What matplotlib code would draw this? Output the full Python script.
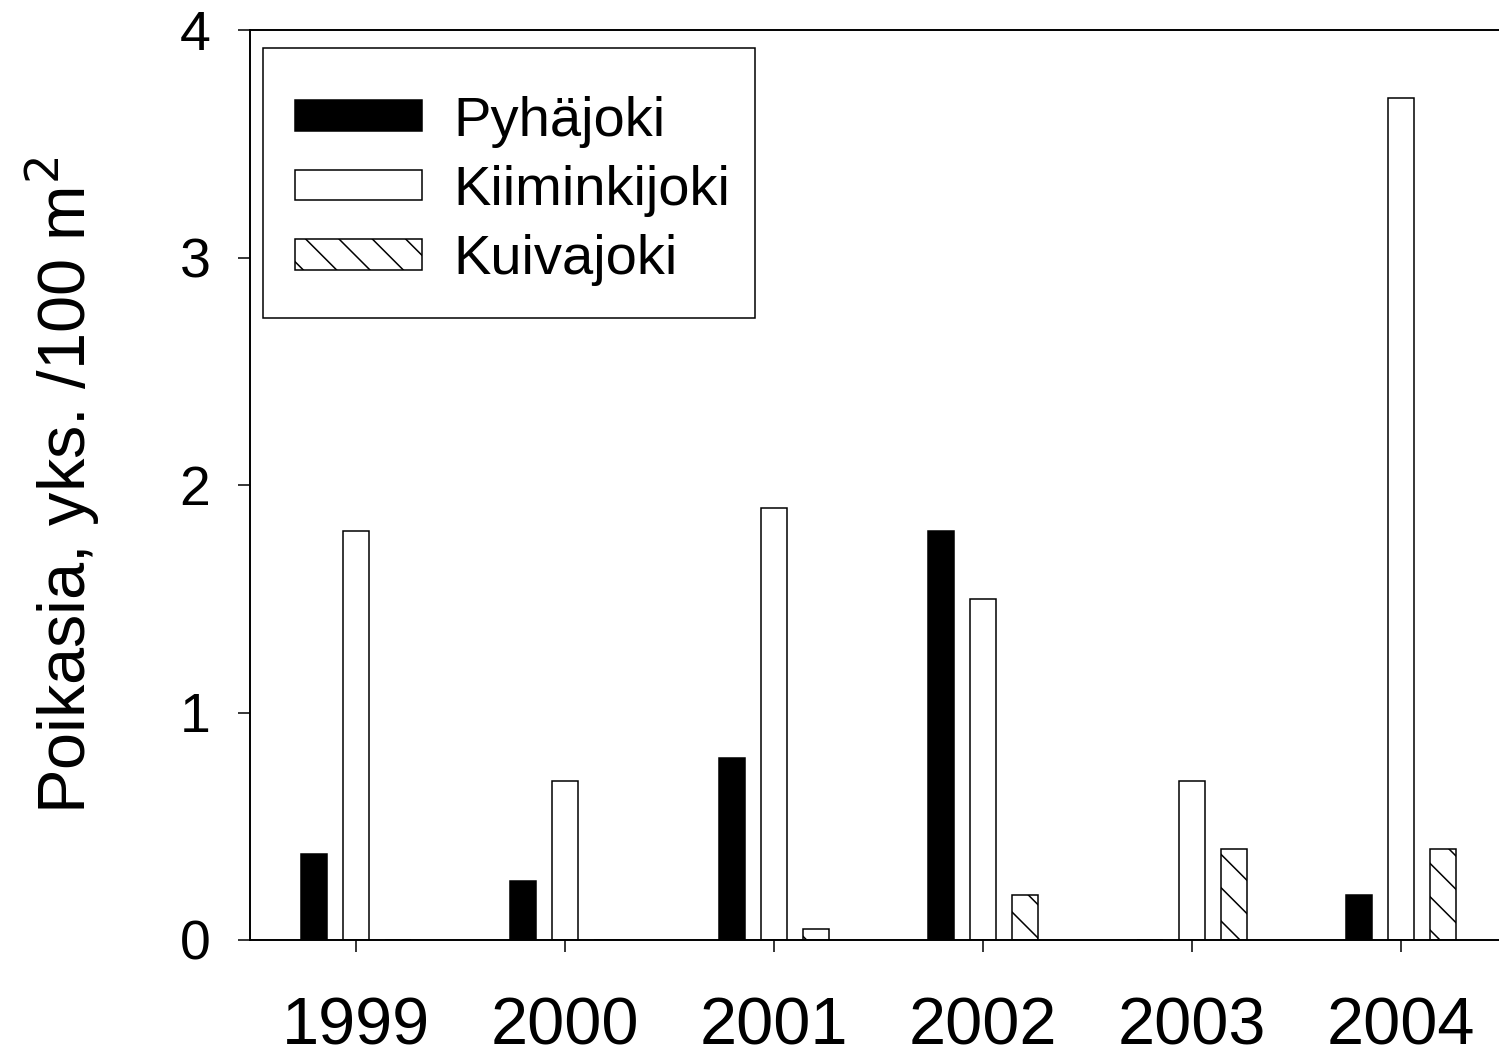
import matplotlib
matplotlib.use("Agg")
import matplotlib.pyplot as plt
import matplotlib.patches as patches
import numpy as np

# data
years = ["1999", "2000", "2001", "2002", "2003", "2004"]
pyhajoki = [0.38, 0.26, 0.80, 1.80, 0.0, 0.20]
kiiminkijoki = [1.80, 0.70, 1.90, 1.50, 0.70, 3.70]
kuivajoki = [0.0, 0.0, 0.05, 0.20, 0.40, 0.40]

plt.rcParams['font.family'] = ['Liberation Sans', 'DejaVu Sans']
plt.rcParams['hatch.linewidth'] = 0.55

W, H = 1499, 1056
# dpi 200 so the hatch spacing comes out as sparse as in the reference
fig = plt.figure(figsize=(W / 200, H / 200), dpi=200)
ax = fig.add_axes([250 / W, 1 - 940 / H, 1 - 250 / W, (940 - 30) / H])

x = np.arange(len(years))
bw = 0.124
off = 0.2
lw = 0.55

ax.bar(x - off, pyhajoki, bw, color='black', edgecolor='black',
       linewidth=lw, label='Pyhäjoki')
ax.bar(x, kiiminkijoki, bw, color='white', edgecolor='black',
       linewidth=lw, label='Kiiminkijoki')
ax.bar(x + off, kuivajoki, bw, color='white', edgecolor='black',
       linewidth=lw, hatch='\\\\', label='Kuivajoki')

ax.set_xlim(-0.507, 5.469)
ax.set_ylim(0, 4)
ax.set_xticks(x)
ax.set_xticklabels(years)
ax.set_yticks([0, 1, 2, 3, 4])

ax.spines['right'].set_visible(False)
for s in ['left', 'bottom', 'top']:
    ax.spines[s].set_linewidth(0.7)

ax.tick_params(axis='x', direction='out', length=4.3, width=0.55,
               labelsize=24, pad=16)
ax.tick_params(axis='y', direction='out', length=4.3, width=0.55,
               labelsize=20, pad=10)

ax.set_ylabel("Poikasia, yks. /100 m$^2$", fontsize=24, labelpad=28)

# legend entries without frame, frame drawn as its own box
leg = ax.legend(loc='upper left',
                bbox_to_anchor=(261 / W, 1 - 62 / H),
                bbox_transform=fig.transFigure,
                fontsize=20.2, frameon=False,
                handlelength=2.27, handleheight=0.46,
                handletextpad=0.55, labelspacing=0.31,
                borderpad=0.6, borderaxespad=0)

fig.patches.append(patches.Rectangle(
    (263 / W, 1 - 318 / H), (755 - 263) / W, (318 - 48) / H,
    transform=fig.transFigure, facecolor='none', edgecolor='black',
    linewidth=0.55, zorder=5))

fig.savefig("out.png", dpi=200)
